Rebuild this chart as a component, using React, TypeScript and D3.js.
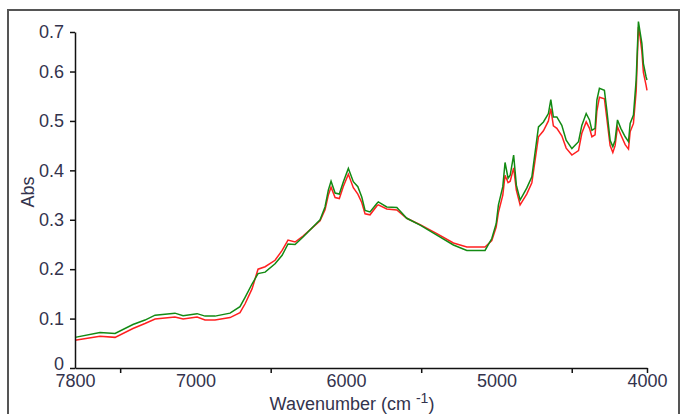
import React, { useEffect, useRef } from "react";
import * as d3 from "d3";

// wavenumbers (cm-1) and absorbance
const greenWave = [7800, 7634, 7534, 7415, 7335, 7268, 7136, 7082, 6989, 6936, 6870, 6770, 6704, 6670, 6624, 6584, 6537, 6471, 6424, 6385, 6338, 6285, 6172, 6139, 6117, 6099, 6072, 6044, 6017, 5984, 5951, 5921, 5895, 5873, 5840, 5795, 5785, 5729, 5662, 5596, 5507, 5396, 5286, 5197, 5076, 5031, 5002, 4987, 4958, 4943, 4923, 4909, 4886, 4868, 4843, 4799, 4765, 4721, 4688, 4655, 4639, 4622, 4599, 4566, 4537, 4499, 4455, 4433, 4404, 4382, 4366, 4345, 4333, 4316, 4283, 4267, 4245, 4227, 4212, 4196, 4174, 4145, 4123, 4112, 4090, 4072, 4057, 4046, 4034, 4024, 4006, 4000];
const greenAbs = [0.062, 0.072, 0.070, 0.088, 0.097, 0.107, 0.111, 0.106, 0.110, 0.105, 0.105, 0.111, 0.124, 0.143, 0.170, 0.191, 0.194, 0.211, 0.228, 0.251, 0.250, 0.265, 0.300, 0.326, 0.360, 0.378, 0.354, 0.352, 0.377, 0.404, 0.377, 0.367, 0.346, 0.319, 0.316, 0.333, 0.336, 0.326, 0.325, 0.303, 0.289, 0.269, 0.249, 0.238, 0.238, 0.262, 0.292, 0.330, 0.367, 0.416, 0.384, 0.390, 0.431, 0.370, 0.340, 0.364, 0.387, 0.488, 0.498, 0.515, 0.543, 0.508, 0.508, 0.491, 0.461, 0.444, 0.458, 0.491, 0.515, 0.502, 0.481, 0.485, 0.542, 0.566, 0.562, 0.522, 0.461, 0.448, 0.461, 0.502, 0.485, 0.468, 0.458, 0.495, 0.512, 0.583, 0.701, 0.680, 0.657, 0.616, 0.589, 0.583];
const redWave = greenWave;
const redAbs = [0.056, 0.064, 0.062, 0.080, 0.090, 0.099, 0.103, 0.099, 0.103, 0.097, 0.097, 0.102, 0.112, 0.130, 0.160, 0.200, 0.205, 0.218, 0.238, 0.259, 0.255, 0.267, 0.298, 0.320, 0.350, 0.366, 0.345, 0.343, 0.368, 0.392, 0.365, 0.352, 0.335, 0.312, 0.310, 0.328, 0.330, 0.322, 0.320, 0.303, 0.290, 0.272, 0.253, 0.245, 0.245, 0.258, 0.285, 0.315, 0.350, 0.390, 0.375, 0.378, 0.405, 0.360, 0.330, 0.352, 0.375, 0.468, 0.480, 0.500, 0.525, 0.490, 0.485, 0.470, 0.445, 0.431, 0.440, 0.475, 0.498, 0.485, 0.468, 0.472, 0.520, 0.548, 0.545, 0.505, 0.450, 0.436, 0.450, 0.488, 0.472, 0.452, 0.443, 0.478, 0.495, 0.560, 0.690, 0.670, 0.640, 0.598, 0.572, 0.562];

const xLabelTicks = [7800, 7000, 6000, 5000, 4000];
const xMinorTicks = [7500, 6500, 5500, 4500, 4000];
const yTicks = [0, 0.1, 0.2, 0.3, 0.4, 0.5, 0.6, 0.68];

const W = 681, H = 414;
const textColor = "#33334d";
const font = "'Liberation Sans', Arial, sans-serif";

export default function App() {
  const xAxisRef = useRef<SVGGElement>(null);
  const xMinorRef = useRef<SVGGElement>(null);
  const yAxisRef = useRef<SVGGElement>(null);

  const x = d3.scaleLinear().domain([7800, 4000]).range([75, 647]);
  const y = d3.scaleLinear().domain([0, 0.68]).range([368, 32]);

  const line = d3.line<[number, number]>()
    .x(d => x(d[0]))
    .y(d => y(d[1]));

  const green = greenWave.map((w, i) => [w, greenAbs[i]] as [number, number]);
  const red = redWave.map((w, i) => [w, redAbs[i]] as [number, number]);

  useEffect(() => {
    const yAxis = d3.axisLeft(y)
      .tickValues(yTicks)
      .tickSize(5)
      .tickSizeOuter(0)
      .tickPadding(6)
      .tickFormat(d => (+d === 0 ? "0" : d3.format(".1f")(+d)));
    d3.select(yAxisRef.current).call(yAxis);

    const xAxis = d3.axisBottom(x)
      .tickValues(xLabelTicks)
      .tickSize(0)
      .tickSizeOuter(0)
      .tickPadding(6)
      .tickFormat(d3.format("d"));
    d3.select(xAxisRef.current).call(xAxis);

    const xMinor = d3.axisBottom(x)
      .tickValues(xMinorTicks)
      .tickSize(5)
      .tickSizeOuter(0)
      .tickFormat(() => "");
    d3.select(xMinorRef.current).call(xMinor);
    d3.select(xMinorRef.current).select(".domain").remove();

    for (const r of [yAxisRef, xAxisRef, xMinorRef]) {
      const g = d3.select(r.current);
      g.selectAll("text")
        .attr("fill", textColor)
        .style("font-family", font)
        .style("font-size", "18px");
      g.selectAll("line, path").attr("stroke", "#111").attr("stroke-width", 1.5);
    }
    // keep the "0" clear of the 7800 label
    d3.select(yAxisRef.current).selectAll<SVGTextElement, number>("text")
      .filter(d => d === 0).attr("dy", "0.1em");
  }, []);

  return (
    <svg width={W} height={H} style={{ position: "absolute", left: 0, top: 0, background: "#fff" }}>
      <rect x={8} y={10} width={671} height={420} fill="#fff" stroke="#555" strokeWidth={2} />
      <path d={line(red) ?? ""} fill="none" stroke="#ff2020" strokeWidth={1.5} />
      <path d={line(green) ?? ""} fill="none" stroke="#138a13" strokeWidth={1.5} />
      <g ref={yAxisRef} transform={`translate(75,0)`} />
      <g ref={xAxisRef} transform={`translate(0,368)`} />
      <g ref={xMinorRef} transform={`translate(0,368)`} />
      <text transform="translate(34,192) rotate(-90)" textAnchor="middle" fill={textColor}
        style={{ fontFamily: font, fontSize: "18px" }}>Abs</text>
      <text x={352} y={410} textAnchor="middle" fill={textColor} style={{ fontFamily: font, fontSize: "18px" }}>
        Wavenumber (cm <tspan dy={-7} fontSize="14px">-1</tspan><tspan dy={7}>)</tspan>
      </text>
    </svg>
  );
}
